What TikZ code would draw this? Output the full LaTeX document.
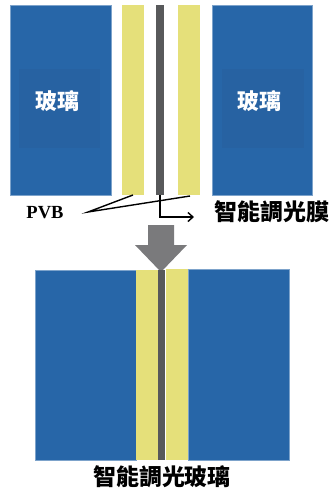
\documentclass[tikz,border=0pt]{standalone}
\usepackage{fontspec}
\setmainfont{Liberation Serif}
\newfontfamily\cjk{Noto Sans CJK TC}
\usetikzlibrary{arrows.meta}
\definecolor{glass}{HTML}{2766A8}
\definecolor{glassin}{HTML}{2762A2}
\definecolor{pvb}{HTML}{E5E07A}
\definecolor{film}{HTML}{58595B}
\definecolor{bigarrow}{HTML}{7A7A7C}
\tikzset{
  glassbox/.style={fill=glass, draw=glass!60!white, line width=0.4pt},
  innerbox/.style={fill=glassin, draw=none},
  pvbbox/.style={fill=pvb, draw=none},
  filmbox/.style={fill=film, draw=none},
  glasslabel/.style={text=white, font=\cjk\bfseries\fontsize{22}{22}\selectfont, inner sep=0pt},
  blacklabel/.style={text=black, font=\cjk\bfseries\fontsize{23}{23}\selectfont, inner sep=0pt},
  pvblabel/.style={text=black, font=\bfseries\fontsize{18.5}{18.5}\selectfont, inner sep=0pt},
  pointer/.style={draw=black, line width=1.4pt},
}
\begin{document}
\begin{tikzpicture}[x=1pt, y=-1pt]
\useasboundingbox (0,0) rectangle (333,491);
% top exploded view
\draw[glassbox] (10,5) rectangle (111,195);
\fill[innerbox] (19,69) rectangle (100,148);
\node[glasslabel] (gl) at (57,101) {玻璃};
\fill[pvbbox] (122,5) rectangle (144,195);
\fill[filmbox] (156,5) rectangle (164,195);
\fill[pvbbox] (178,5) rectangle (200,195);
\draw[glassbox] (212,5) rectangle (312,195);
\fill[innerbox] (222,69) rectangle (304,148);
\node[glasslabel] (gr) at (259,101) {玻璃};
% labels
\node[pvblabel] (pvb) at (45,213) {PVB};
\coordinate (pv) at (88,212);
\coordinate (y1) at (133,195);
\coordinate (y2) at (190,196);
\draw[pointer] (y1) -- (pv) -- (y2);
\coordinate (fb) at (160,195);
\coordinate (fc) at (160,217);
\coordinate (fe) at (194,217);
\draw[pointer, -{Straight Barb[length=5pt,width=9pt]}] (fb) -- (fc) -- (fe);
\node[blacklabel, anchor=west] (film) at (214,212) {智能調光膜};
% big arrow
\fill[bigarrow] (148,225) -- (174,225) -- (174,245) -- (187,245) -- (161,272) -- (135,245) -- (148,245) -- cycle;
% bottom assembled view
\draw[glassbox] (35,270) rectangle (136,460);
\fill[pvbbox] (136,270) rectangle (158,460);
\fill[filmbox] (158,270) rectangle (165,460);
\fill[pvbbox] (166,269) rectangle (188,460);
\draw[glassbox] (188,269) rectangle (289,460);
\node[blacklabel] (res) at (162,477) {智能調光玻璃};
\end{tikzpicture}
\end{document}
